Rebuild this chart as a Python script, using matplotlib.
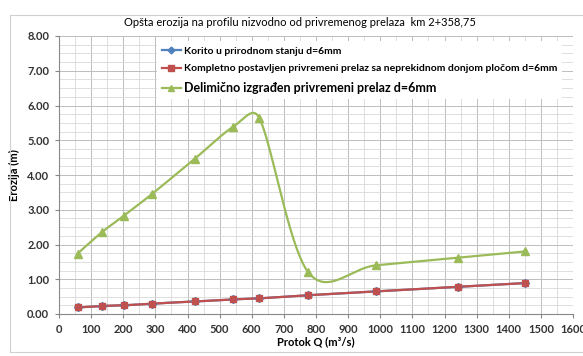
import numpy as np
import matplotlib.pyplot as plt
from matplotlib.patches import Rectangle
from matplotlib.ticker import MultipleLocator

plt.rcParams['font.family'] = ['Lato', 'DejaVu Sans']

# protok Q (m3/s)
q = [58, 133, 202, 289, 423, 541, 623, 776, 986, 1243, 1451]

korito = [0.19, 0.23, 0.25, 0.30, 0.36, 0.42, 0.45, 0.54, 0.65, 0.78, 0.89]
kompletno = [0.19, 0.23, 0.25, 0.30, 0.36, 0.42, 0.45, 0.54, 0.65, 0.78, 0.89]
delimicno = [1.74, 2.35, 2.83, 3.45, 4.47, 5.38, 5.65, 1.20, 1.40, 1.62, 1.80]

labels = ['Korito u prirodnom stanju d=6mm',
          'Kompletno postavljen privremeni prelaz sa neprekidnom donjom pločom d=6mm',
          'Delimično izgrađen privremeni prelaz d=6mm']


def smooth(x, y, n=40, sx=0.32125, sy=34.75, cap=0.5):
    '''smoothed line like excel: catmull-rom bezier in screen units,
    control arm limited to a part of the segment length'''
    P = np.column_stack([np.asarray(x) * sx, np.asarray(y) * sy]).astype(float)
    out = []
    for i in range(len(P) - 1):
        p0 = P[i - 1] if i > 0 else P[i]
        p1 = P[i]
        p2 = P[i + 1]
        p3 = P[i + 2] if i + 2 < len(P) else P[i + 1]
        d12 = np.linalg.norm(p2 - p1)
        a1 = (p2 - p0) / 6
        a2 = (p3 - p1) / 6
        for a in (a1, a2):
            L = np.linalg.norm(a)
            if L > cap * d12:
                a *= cap * d12 / L
        b1 = p1 + a1
        b2 = p2 - a2
        t = np.linspace(0, 1, n)[:, None]
        seg = ((1 - t) ** 3) * p1 + 3 * ((1 - t) ** 2) * t * b1 + 3 * (1 - t) * t ** 2 * b2 + t ** 3 * p2
        out.append(seg)
    s = np.vstack(out)
    return s[:, 0] / sx, s[:, 1] / sy


fig = plt.figure(figsize=(5.83, 3.56), dpi=100)
fig.patches.append(Rectangle((10 / 583, 4 / 356), 1, 337 / 356, transform=fig.transFigure,
                             fill=False, edgecolor='#D0D0D0', lw=0.8))
ax = fig.add_axes([59 / 583, 1 - 314 / 356, 514 / 583, 278 / 356])

series = [(korito, '#4F81BD', 'D', 4), (kompletno, '#C0504D', 's', 4.5), (delimicno, '#9BBB59', '^', 5.5)]
handles = []
for (vals, col, mk, ms), lab in zip(series, labels):
    sx, sy = smooth(q, vals)
    ax.plot(sx, sy, color=col, lw=1.6, zorder=3)
    ax.plot(q, vals, linestyle='none', marker=mk, color=col, ms=ms, zorder=4)
    h, = ax.plot([], [], color=col, lw=1.6, marker=mk, ms=ms - 0.5, label=lab)
    handles.append(h)

ax.set_xlim(0, 1600)
ax.set_ylim(0, 8)
ax.xaxis.set_major_locator(MultipleLocator(100))
ax.xaxis.set_minor_locator(MultipleLocator(50))
ax.yaxis.set_major_locator(MultipleLocator(1))
ax.yaxis.set_minor_locator(MultipleLocator(0.25))
ax.yaxis.set_major_formatter(lambda v, p: '%.2f' % v)
ax.grid(which='major', color='#BDBDBD', lw=0.7)
ax.grid(which='minor', color='#D9D9D9', lw=0.6)
ax.set_axisbelow(True)
for s in ['top', 'right']:
    ax.spines[s].set_visible(False)
for s in ['left', 'bottom']:
    ax.spines[s].set_color('#888888')
    ax.spines[s].set_linewidth(0.8)
ax.tick_params(which='both', length=3, color='#888888', labelsize=8, pad=4)
ax.tick_params(which='minor', length=0)
for t in ax.get_xticklabels() + ax.get_yticklabels():
    t.set_fontweight('bold')
    t.set_color('#333333')

ax.set_xlabel('Protok Q (m³/s)', fontsize=8, fontweight='bold', labelpad=1)
ax.set_ylabel('Erozija (m)', fontsize=8, fontweight='bold', labelpad=5)
fig.text(0.515, 1 - 23 / 356, 'Opšta erozija na profilu nizvodno od privremenog prelaza  km 2+358,75',
         ha='center', va='center', fontsize=8)

leg = ax.legend(handles=handles, loc='upper left', bbox_to_anchor=(0.18, 1.0),
                frameon=True, framealpha=1, edgecolor='none', fancybox=False,
                handlelength=1.8, handletextpad=0.3, labelspacing=0.8, borderpad=0.5,
                prop={'size': 7.5, 'weight': 'bold'})
leg.get_texts()[2].set_fontsize(9)

fig.savefig('out.png', dpi=100)
